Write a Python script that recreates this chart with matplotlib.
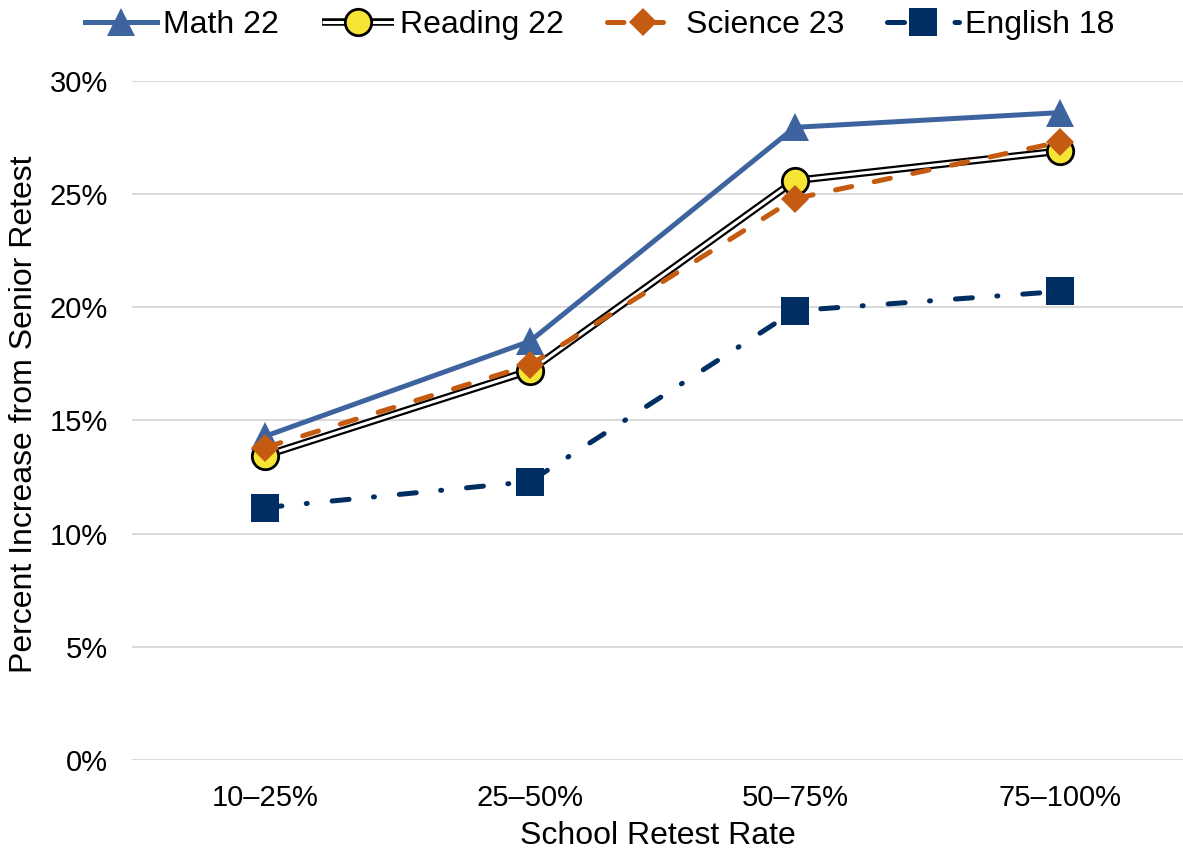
import matplotlib
matplotlib.use("Agg")
import matplotlib.pyplot as plt
from matplotlib.ticker import PercentFormatter

plt.rcParams["font.family"] = ["Liberation Sans", "DejaVu Sans"]

categories = ["10\u201325%", "25\u201350%", "50\u201375%", "75\u2013100%"]
math22 = [14.3, 18.5, 27.95, 28.6]
reading22 = [13.45, 17.2, 25.6, 26.9]
science23 = [13.8, 17.45, 24.8, 27.3]
english18 = [11.15, 12.3, 19.85, 20.7]

BLUE = "#3E64A0"
YELLOW = "#F6E535"
ORANGE = "#C55A11"
NAVY = "#002E62"
GRID = "#D9D9D9"

fig = plt.figure(figsize=(11.83, 8.52), dpi=100)
ax = fig.add_axes([0.112, 0.108, 0.888, 0.797])
x = list(range(len(categories)))

h_math, = ax.plot(x, math22, color=BLUE, lw=3.6, marker="^", ms=20,
                  markeredgewidth=0, zorder=3)

# reading: black outline with white core, markers drawn separately
r_outer, = ax.plot(x, reading22, color="black", lw=5.4, zorder=4,
                   solid_capstyle="butt")
r_inner, = ax.plot(x, reading22, color="white", lw=2.2, zorder=4,
                   solid_capstyle="butt")
r_mark, = ax.plot(x, reading22, ls="none", marker="o", ms=19,
                  markerfacecolor=YELLOW, markeredgecolor="black",
                  markeredgewidth=2, zorder=4)

h_sci, = ax.plot(x, science23, color=ORANGE, lw=3.6, ls=(0, (3.3, 4.6)),
                 dash_capstyle="round", marker="D", ms=14.5,
                 markeredgewidth=0, zorder=5)
h_eng, = ax.plot(x, english18, color=NAVY, lw=3.6, ls=(0, (3.4, 4.9, 0.2, 5.0)),
                 dash_capstyle="round", marker="s", ms=20,
                 markeredgewidth=0, zorder=6)

ax.set_xlim(-0.5, 3.465)
ax.set_ylim(0, 30)
ax.set_yticks(range(0, 31, 5))
ax.yaxis.set_major_formatter(PercentFormatter(decimals=0))
ax.set_xticks(x)
ax.set_xticklabels(categories)
ax.grid(axis="y", color=GRID, lw=1.4)
ax.set_axisbelow(True)
for s in ax.spines.values():
    s.set_visible(False)
ax.tick_params(axis="both", length=0, labelsize=21)
ax.tick_params(axis="y", pad=17.5)
ax.tick_params(axis="x", pad=17)

ax.set_xlabel("School Retest Rate", fontsize=23, labelpad=7)
fig.text(24 / 1183, 1 - 414 / 852, "Percent Increase from Senior Retest",
         rotation=90, fontsize=23, ha="center", va="center")

fig.legend([h_math, (r_outer, r_inner, r_mark), h_sci, h_eng],
           ["Math 22", "Reading 22", "Science 23", "English 18"],
           loc="center", bbox_to_anchor=(0.507, 0.971), ncol=4, frameon=False,
           fontsize=23, handlelength=2.25, handletextpad=0.2,
           columnspacing=1.35, borderpad=0)

fig.savefig("out.png", dpi=100)
